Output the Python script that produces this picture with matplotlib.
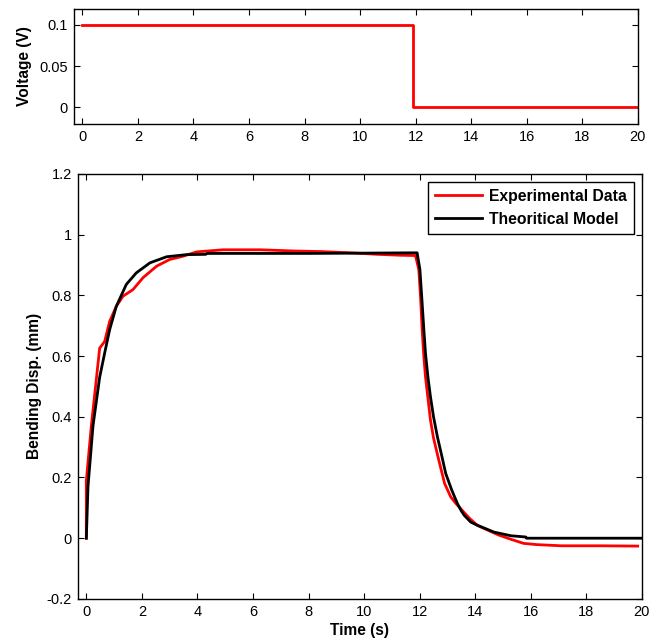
import numpy as np
import matplotlib
matplotlib.use("Agg")
import matplotlib.pyplot as plt
from matplotlib.ticker import FuncFormatter

plt.rcParams['font.family'] = ['Liberation Sans', 'DejaVu Sans']

# input voltage step
v_time = [0, 11.9, 11.9, 20]
v_volt = [0.1, 0.1, 0, 0]

# experimental data (red)
exp_t = [0.0, 0.0, 0.18, 0.48, 0.66, 0.84, 1.08, 1.32, 1.68, 2.04, 2.53, 3.0, 3.49,
         3.97, 4.93, 6.26, 7.5, 8.5, 9.5, 10.5, 11.3, 11.85, 11.97, 12.03, 12.09,
         12.15, 12.21, 12.39, 12.5, 12.69, 12.9, 13.12, 13.3, 13.48, 13.8, 14.08,
         14.83, 15.3, 15.74, 16.2, 17.1, 18.5, 19.85]
exp_d = [0.0, 0.19, 0.37, 0.626, 0.648, 0.714, 0.764, 0.797, 0.819, 0.858, 0.896, 0.918,
         0.929, 0.943, 0.950, 0.950, 0.946, 0.944, 0.940, 0.935, 0.932, 0.931, 0.885,
         0.80, 0.687, 0.60, 0.532, 0.389, 0.33, 0.257, 0.18, 0.136, 0.115, 0.097, 0.065,
         0.042, 0.011, -0.004, -0.017, -0.021, -0.025, -0.025, -0.026]

# theoretical model (black)
mod_t = [0.0, 0.06, 0.24, 0.48, 0.66, 0.84, 1.08, 1.44, 1.80, 2.29, 2.89, 3.61, 4.3,
         4.35, 8.0, 11.91, 12.01, 12.05, 12.09, 12.15, 12.21, 12.3, 12.39, 12.5, 12.64,
         12.8, 12.94, 13.15, 13.36, 13.5, 13.61, 13.84, 14.07, 14.68, 15.29, 15.82,
         15.85, 20.0]
mod_d = [0.0, 0.17, 0.37, 0.53, 0.61, 0.687, 0.764, 0.836, 0.874, 0.907, 0.927, 0.934,
         0.935, 0.938, 0.938, 0.940, 0.885, 0.83, 0.775, 0.69, 0.61, 0.53, 0.466, 0.40,
         0.334, 0.27, 0.213, 0.16, 0.114, 0.09, 0.075, 0.053, 0.043, 0.02, 0.008, 0.004,
         0.0, 0.0]

fig = plt.figure(figsize=(6.61, 6.44), dpi=100)
ax1 = fig.add_axes([0.112, 0.8075, 0.853, 0.1786])
ax2 = fig.add_axes([0.118, 0.070, 0.853, 0.660])

fmt = FuncFormatter(lambda v, p: '%g' % round(v, 3))

ax1.plot(v_time, v_volt, color='#ff0000', lw=2)
ax1.set_xlim(-0.3, 20)
ax1.set_ylim(-0.02, 0.119)
ax1.set_xticks(np.arange(0, 21, 2))
ax1.set_yticks([0, 0.05, 0.1])
ax1.yaxis.set_major_formatter(fmt)
ax1.set_ylabel('Voltage (V)', fontweight='bold', fontsize=11.2)
ax1.yaxis.set_label_coords(-0.074, 0.5)

ax2.plot(exp_t, exp_d, color='#ff0000', lw=2, label='Experimental Data')
ax2.plot(mod_t, mod_d, color='black', lw=2, label='Theoritical Model')
ax2.set_xlim(-0.3, 20)
ax2.set_ylim(-0.2, 1.2)
ax2.set_xticks(np.arange(0, 21, 2))
ax2.set_yticks(np.arange(-0.2, 1.21, 0.2))
ax2.yaxis.set_major_formatter(fmt)
ax2.set_xlabel('Time (s)', fontweight='bold', fontsize=11.2, labelpad=3)
ax2.set_ylabel('Bending Disp. (mm)', fontweight='bold', fontsize=11.2)
ax2.yaxis.set_label_coords(-0.064, 0.5)

leg = ax2.legend(loc='upper right', fancybox=False, framealpha=1, edgecolor='black',
                 prop={'weight': 'bold', 'size': 11.3}, handlelength=3.0,
                 handletextpad=0.45, borderaxespad=0.5, borderpad=0.45,
                 labelspacing=0.5)
leg.get_frame().set_linewidth(1.0)

for ax in (ax1, ax2):
    ax.tick_params(direction='in', top=True, right=True, labelsize=10.5, length=4,
                   pad=4.5)
    for s in ax.spines.values():
        s.set_linewidth(1.0)

fig.savefig('out.png', dpi=100)
